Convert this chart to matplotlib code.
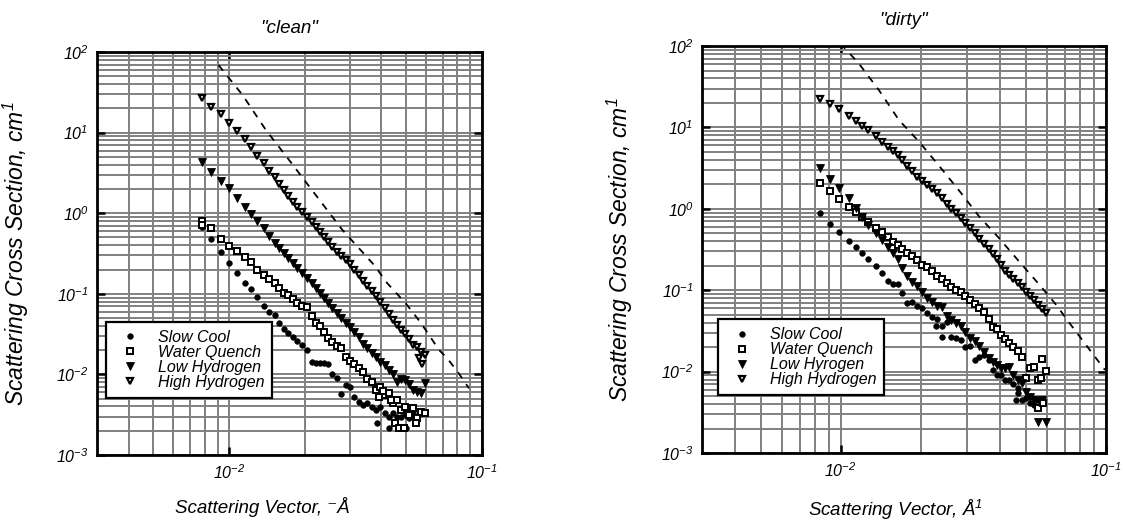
import numpy as np
import matplotlib
matplotlib.use("Agg")
import matplotlib.pyplot as plt
from matplotlib.ticker import LogLocator, NullFormatter

nan = np.nan

# ---- "clean" panel data (q in 1/A, cross section in 1/cm) ----
q_clean = [0.00780, 0.00846, 0.00927, 0.01000, 0.01072, 0.01153, 0.01225, 0.01294,
           0.01367, 0.01443, 0.01515, 0.01576, 0.01640, 0.01711, 0.01780, 0.01862,
           0.01949, 0.02040, 0.02122, 0.02200, 0.02289, 0.02381, 0.02470, 0.02561,
           0.02673, 0.02780, 0.02892, 0.03008, 0.03129, 0.03254, 0.03385, 0.03522,
           0.03663, 0.03811, 0.03964, 0.04124, 0.04290, 0.04449, 0.04613, 0.04785,
           0.04962, 0.05146, 0.05337, 0.05535, 0.05740, 0.05953]
clean_slow = [0.681, 0.479, 0.333, 0.243, 0.183, 0.137, 0.114, 0.0904, 0.0706, 0.0600,
              0.0551, 0.0438, 0.0362, 0.0323, 0.0294, 0.0262, 0.0232, 0.0201, 0.0144, 0.0137,
              0.0140, 0.0137, 0.0135, 0.0102, 0.00913, 0.00571, 0.00739, 0.00704, 0.00529, 0.00459,
              0.00417, 0.00438, 0.00398, 0.00362, 0.00398, 0.00329, 0.00299, 0.00335, 0.00299, 0.00299,
              0.00323, 0.00285, 0.00329, 0.00299, nan, nan]
clean_water = [0.800, 0.649, 0.479, 0.396, 0.343, 0.289, 0.246, 0.197, 0.171, 0.151,
               0.135, 0.117, 0.103, 0.0966, 0.0854, 0.0762, 0.0706, 0.0679, 0.0530, 0.0438,
               0.0399, 0.0339, 0.0280, 0.0253, 0.0224, 0.0211, 0.0163, 0.0147, 0.0135, 0.0119,
               0.0108, 0.00887, 0.00806, 0.00648, 0.00704, 0.00555, 0.00593, 0.00438, 0.00481, 0.00362,
               0.00398, 0.00314, 0.00379, 0.00285, 0.00345, 0.00335]
clean_lowh = [4.36, 3.28, 2.51, 2.03, 1.53, 1.205, 0.968, 0.800, 0.649, 0.521,
              0.431, 0.366, 0.318, 0.275, 0.239, 0.207, 0.179, 0.156, 0.135, 0.117,
              0.101, 0.0879, 0.0762, 0.0660, 0.0572, 0.0496, 0.0430, 0.0384, 0.0339, 0.0295,
              0.0236, 0.0211, 0.0186, 0.0163, 0.0144, 0.0131, 0.0115, 0.0100, 0.00806, 0.00887,
              0.00844, 0.00770, 0.00648, 0.00607, 0.00582, 0.00784]
clean_highh = [26.6, 21.0, 16.9, 13.3, 10.5, 8.25, 6.57, 5.13, 4.24, 3.37,
               2.79, 2.28, 1.94, 1.65, 1.39, 1.205, 1.045, 0.906, 0.770, 0.668,
               0.590, 0.511, 0.443, 0.384, 0.333, 0.294, 0.263, 0.235, 0.200, 0.172,
               0.145, 0.125, 0.108, 0.093, 0.079, 0.066, 0.056, 0.048, 0.0415, 0.036,
               0.0315, 0.0272, 0.0235, 0.0218, 0.0188, 0.0175]
# a few extra scattered points at the same q (overlapping runs)
clean_slow_xq = [0.0386, 0.0429, 0.0499]
clean_slow_xi = [0.00247, 0.00214, 0.00214]
clean_water_xq = [0.0078, 0.0453, 0.0469, 0.0490, 0.0547, 0.0391, 0.0405, 0.0435]
clean_water_xi = [0.72, 0.00247, 0.00214, 0.00214, 0.00247, 0.00529, 0.00630, 0.00481]
clean_highh_xq = [0.0564, 0.0581]
clean_highh_xi = [0.0158, 0.0135]
clean_ref_q = [0.00907, 0.01129, 0.01396, 0.01726, 0.02200, 0.02805, 0.03742, 0.04213,
               0.04993, 0.05552, 0.05988, 0.06761, 0.07295, 0.08110, 0.08883]
clean_ref_i = [69.0, 29.3, 10.8, 4.57, 1.68, 0.619, 0.228, 0.136,
               0.0762, 0.0496, 0.0356, 0.0201, 0.0158, 0.0102, 0.00672]

# ---- "dirty" panel data ----
q_dirty = [0.00838, 0.00914, 0.00983, 0.01072, 0.01143, 0.01205, 0.01269, 0.01353,
           0.01426, 0.01502, 0.01574, 0.01639, 0.01707, 0.01784, 0.01863, 0.01946,
           0.02033, 0.02123, 0.02218, 0.02310, 0.02406, 0.02506, 0.02610, 0.02718,
           0.02831, 0.02949, 0.03072, 0.03199, 0.03332, 0.03470, 0.03614, 0.03742,
           0.03875, 0.04024, 0.04181, 0.04329, 0.04482, 0.04642, 0.04807, 0.04977,
           0.05153, 0.05337, 0.05526, 0.05722, 0.05925]
dirty_slow = [0.897, 0.651, 0.524, 0.406, 0.336, 0.284, 0.239, 0.198, 0.161, 0.131,
              0.119, 0.118, 0.0915, 0.0703, 0.0723, 0.0637, 0.0599, 0.0520, 0.0473, 0.0443,
              0.0363, 0.0411, 0.0269, 0.0256, 0.0244, 0.0199, 0.0206, 0.0139, 0.0150, 0.0160,
              0.0139, 0.0105, 0.00908, 0.00906, 0.00788, 0.00786, 0.00704, 0.00623, 0.00448, 0.00469,
              0.00408, 0.00389, 0.00448, 0.00408, nan]
dirty_water = [2.06, 1.67, 1.32, 1.06, 0.922, 0.786, 0.682, 0.575, 0.514, 0.446,
               0.387, 0.359, 0.318, 0.284, 0.266, 0.235, 0.204, 0.191, 0.172, 0.149,
               0.136, 0.121, 0.110, 0.102, 0.0960, 0.0852, 0.0758, 0.0677, 0.0599, 0.0545,
               0.0443, 0.0356, 0.0331, 0.0282, 0.0249, 0.0222, 0.0199, 0.0181, 0.0153, 0.00827,
               0.0110, 0.0115, 0.00788, 0.0142, 0.0103]
dirty_lowh = [3.14, 2.30, 1.78, 1.34, 1.01, 0.801, 0.632, 0.500, 0.414, 0.336,
              0.284, 0.239, 0.186, 0.149, 0.127, 0.113, 0.0960, 0.0793, 0.0723, 0.0637,
              0.0615, 0.0486, 0.0430, 0.0392, 0.0363, 0.0309, 0.0256, 0.0240, 0.0206, 0.0176,
              0.0146, 0.0132, 0.0121, 0.0110, 0.0110, 0.0115, 0.00906, 0.00786, 0.00716, 0.00567,
              0.00492, 0.00448, 0.00243, 0.00448, 0.00243]
dirty_highh = [22.3, 19.2, 16.7, 13.8, 11.9, 10.5, 9.29, 7.75, 6.68, 5.79,
               5.12, 4.58, 3.98, 3.40, 2.91, 2.49, 2.20, 1.96, 1.75, 1.56,
               1.34, 1.16, 1.00, 0.880, 0.771, 0.673, 0.579, 0.500, 0.431, 0.371,
               0.320, 0.279, 0.240, 0.204, 0.173, 0.153, 0.137, 0.123, 0.109, 0.0962,
               0.0849, 0.0750, 0.0663, 0.0587, 0.0520]
dirty_slow_xq = [0.04656, 0.04589, 0.02284, 0.02420]
dirty_slow_xi = [0.00541, 0.00448, 0.0363, 0.0269]
dirty_water_xq = [0.05542, 0.05789, 0.05705]
dirty_water_xi = [0.00354, 0.00408, 0.00827]
dirty_ref_q = [0.00997, 0.0117, 0.01393, 0.01659, 0.01975, 0.02420, 0.02882, 0.03332,
               0.03910, 0.04656, 0.05623, 0.06503, 0.07302, 0.08700, 0.0991]
dirty_ref_i = [108, 61.2, 28.8, 12.3, 6.68, 3.00, 1.48, 0.801,
               0.455, 0.235, 0.116, 0.0658, 0.0392, 0.0184, 0.0105]

clean_labels = ["Slow Cool", "Water Quench", "Low Hydrogen", "High Hydrogen"]
dirty_labels = ["Slow Cool", "Water Quench", "Low Hyrogen", "High Hydrogen"]

plt.rcParams['font.family'] = ['Liberation Sans', 'DejaVu Sans']
plt.rcParams['font.style'] = 'italic'
plt.rcParams['mathtext.fontset'] = 'custom'
plt.rcParams['mathtext.rm'] = 'Liberation Sans:italic'
plt.rcParams['mathtext.it'] = 'Liberation Sans:italic'
plt.rcParams['mathtext.bf'] = 'Liberation Sans:italic:bold'

styles = [
    dict(marker='o', ms=4.0, mfc='black', mec='black', mew=0.5),
    dict(marker='s', ms=4.5, mfc='white', mec='black', mew=1.4),
    dict(marker='v', ms=5.6, mfc='black', mec='black', mew=0.6),
    dict(marker='v', ms=5.0, mfc='white', mec='black', mew=1.6),
]


def setup_axes(ax, title, title_pad):
    ax.set_xscale('log')
    ax.set_yscale('log')
    ax.set_xlim(0.003, 0.1)
    ax.set_ylim(1e-3, 1e2)
    for axis in (ax.xaxis, ax.yaxis):
        axis.set_major_locator(LogLocator(base=10, numticks=20))
        axis.set_minor_locator(LogLocator(base=10, subs=np.arange(2, 10), numticks=20))
        axis.set_minor_formatter(NullFormatter())
    ax.grid(True, which='both', color='0.5', lw=1.4)
    ax.set_axisbelow(True)
    ax.tick_params(which='major', direction='in', length=6, width=1.8,
                   top=True, right=True, labelsize=11.5, pad=6, color='black')
    ax.tick_params(which='minor', length=0)
    for sp in ax.spines.values():
        sp.set_linewidth(2)
        sp.set_zorder(3)
    ax.set_title(title, fontsize=13.5, pad=title_pad)


def draw_panel(ax, q, series, extras, ref_q, ref_i, labels):
    handles = []
    for ivals, st, lab in zip(series, styles, labels):
        h, = ax.plot(q, ivals, ls='none', label=lab, zorder=2, **st)
        handles.append(h)
    for (xq, xi), st in zip(extras, styles):
        if xq:
            ax.plot(xq, xi, ls='none', zorder=2, **st)
    ax.plot(ref_q, ref_i, color='black', lw=1.3, ls=(0, (4, 4)), zorder=2)
    return handles


fig = plt.figure(figsize=(11.23, 5.25), dpi=100)
ax1 = fig.add_axes([0.0864, 0.1333, 0.3428, 0.7676])
ax2 = fig.add_axes([0.6251, 0.1371, 0.3597, 0.7752])

setup_axes(ax1, '"clean"', 14)
setup_axes(ax2, '"dirty"', 15)

h1 = draw_panel(ax1, q_clean, [clean_slow, clean_water, clean_lowh, clean_highh],
                [(clean_slow_xq, clean_slow_xi), (clean_water_xq, clean_water_xi),
                 ([], []), (clean_highh_xq, clean_highh_xi)],
                clean_ref_q, clean_ref_i, clean_labels)
h2 = draw_panel(ax2, q_dirty, [dirty_slow, dirty_water, dirty_lowh, dirty_highh],
                [(dirty_slow_xq, dirty_slow_xi), (dirty_water_xq, dirty_water_xi),
                 ([], []), ([], [])],
                dirty_ref_q, dirty_ref_i, dirty_labels)

for ax, h, anchor in [(ax1, h1, (0.0234, 0.330)), (ax2, h2, (0.0396, 0.329))]:
    leg = ax.legend(handles=h, loc='upper left', bbox_to_anchor=anchor, borderaxespad=0,
                    fancybox=False, edgecolor='black', framealpha=1, fontsize=11.5,
                    handlelength=2.0, handletextpad=0.75, labelspacing=0.0, borderpad=0.5)
    leg.get_frame().set_linewidth(1.6)

ax1.set_ylabel('Scattering Cross Section, cm$^{1}$', fontsize=16.5)
ax2.set_ylabel('Scattering Cross Section, cm$^{1}$', fontsize=16.5)
ax1.yaxis.set_label_coords(-0.171, 0.5)
ax2.yaxis.set_label_coords(-0.166, 0.5)
ax1.set_xlabel('Scattering Vector, \u207bÅ', fontsize=13.5)
ax2.set_xlabel('Scattering Vector, Å$^{1}$', fontsize=13.5)
ax1.xaxis.set_label_coords(0.43, -0.105)
ax2.xaxis.set_label_coords(0.478, -0.11)

fig.savefig('out.png', dpi=100)
